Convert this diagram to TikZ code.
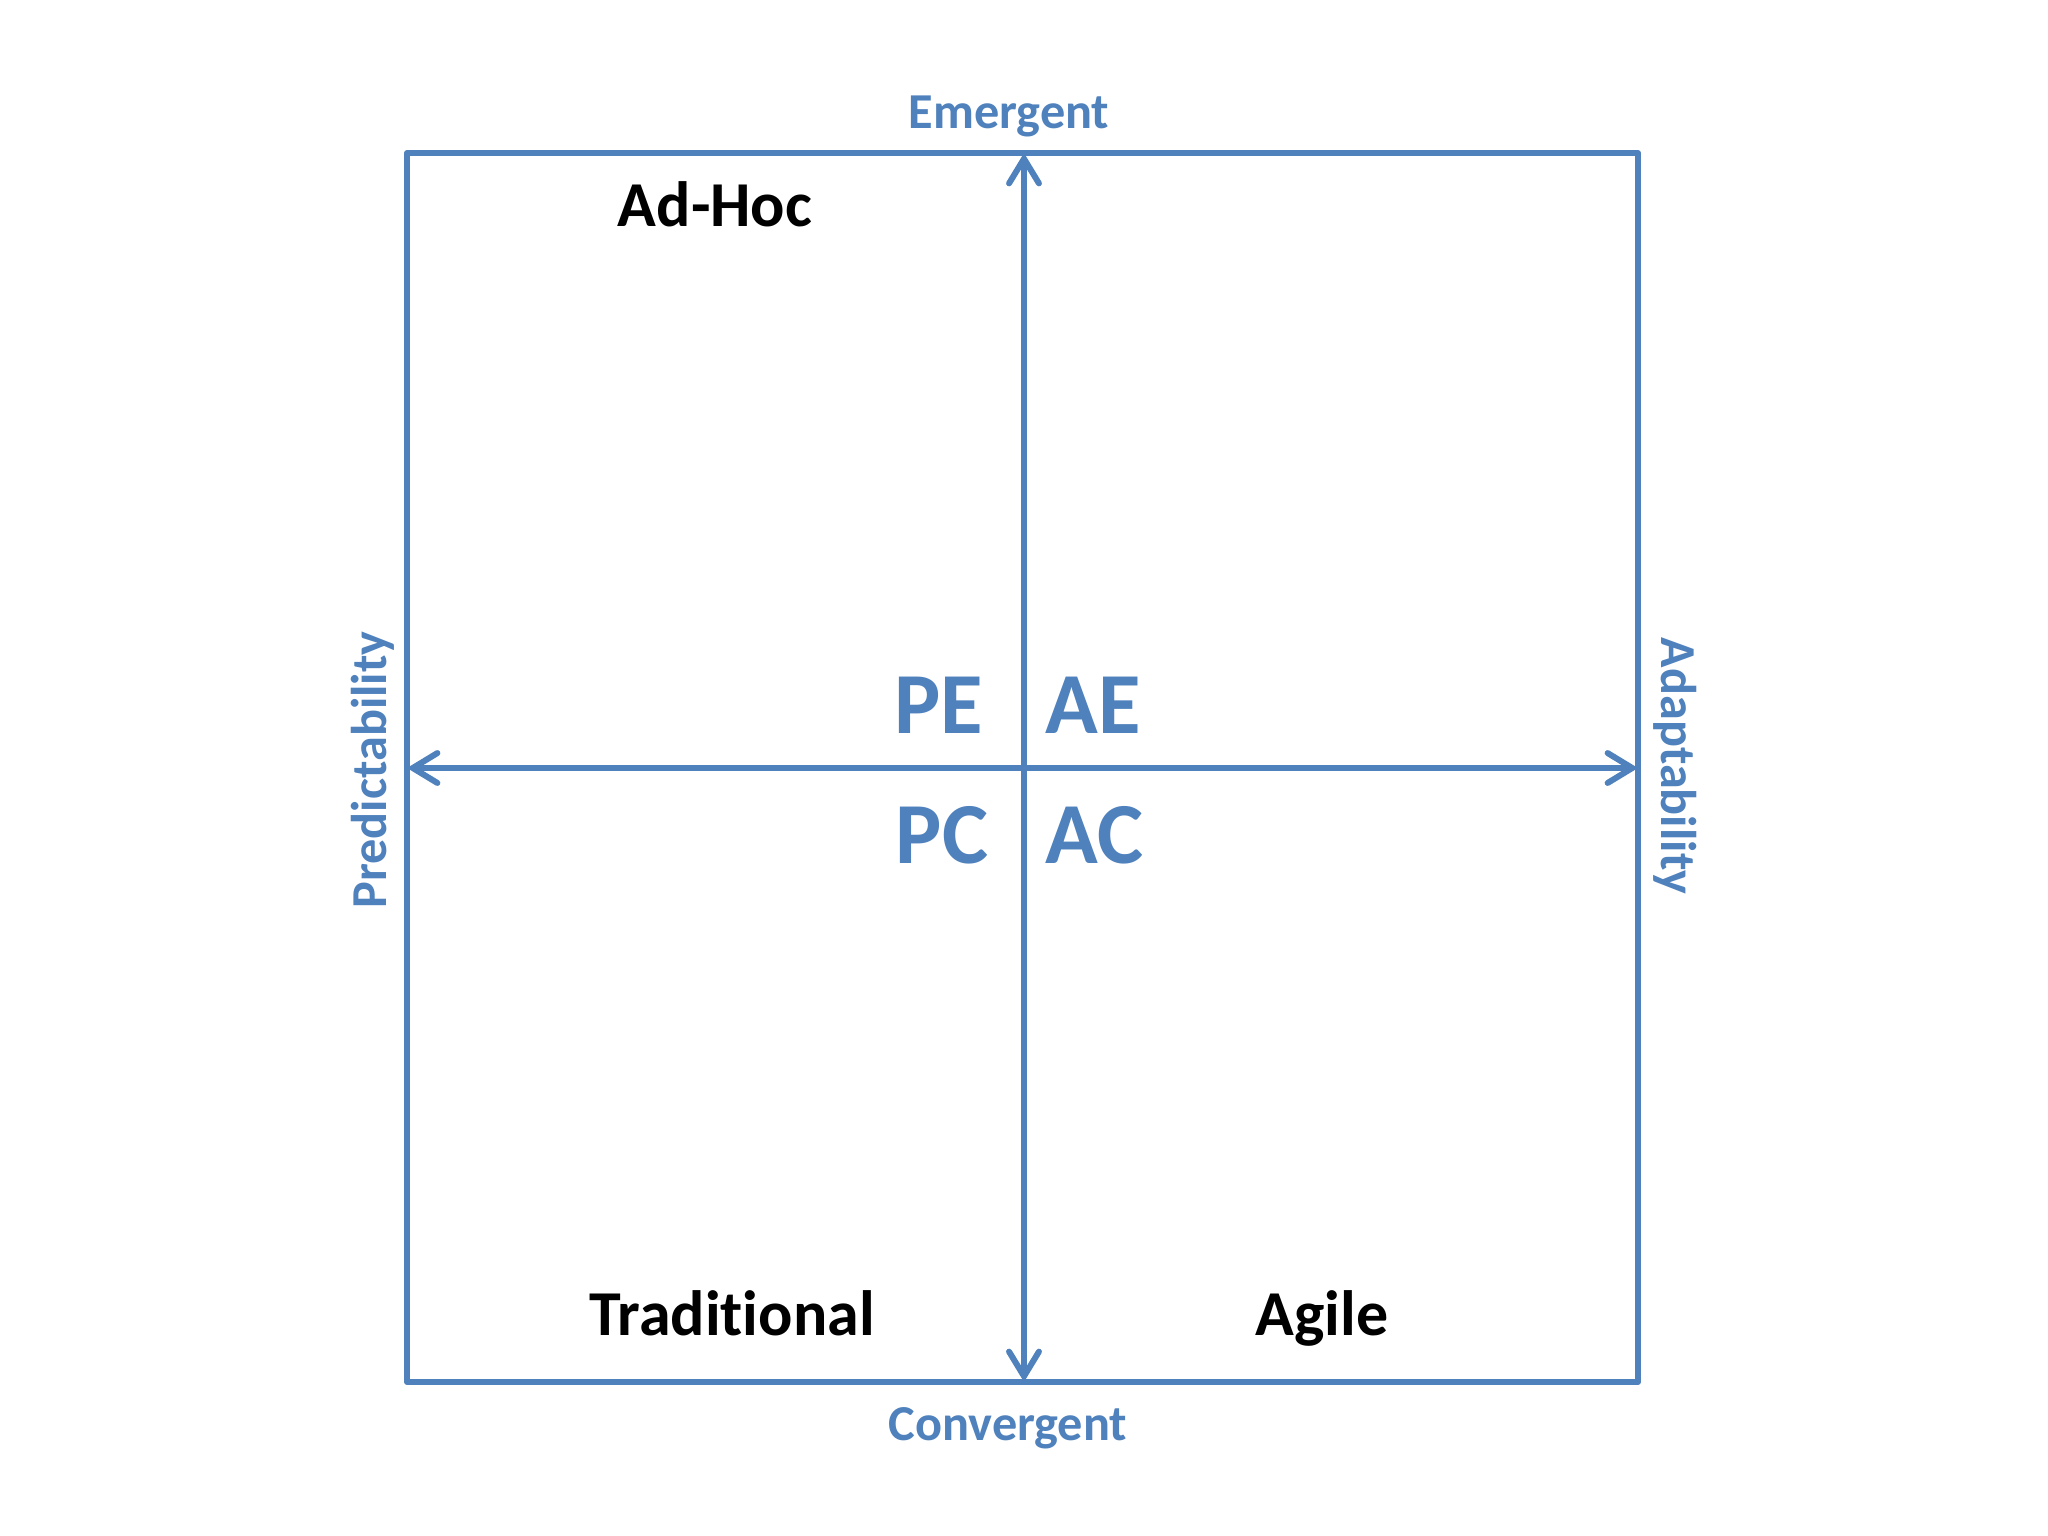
\documentclass[tikz,border=0pt]{standalone}
\usepackage{fontspec}
\setmainfont{Carlito}[Ligatures={NoCommon,NoRare,NoContextual}]
\usetikzlibrary{arrows.meta}
\definecolor{axisblue}{RGB}{79,129,189}
\tikzset{
  frame/.style={draw=axisblue, line width=1.7pt, line join=round},
  axisarrow/.style={draw=axisblue, line width=1.7pt, line cap=round,
    {Straight Barb[length=7pt,width=8.5pt,line cap=round]}-{Straight Barb[length=7pt,width=8.5pt,line cap=round]}},
  axislabel/.style={inner sep=0pt, anchor=base, text=axisblue, font=\fontsize{14.3pt}{17pt}\selectfont\bfseries},
  zone/.style={inner sep=0pt, anchor=base, text=axisblue, font=\fontsize{24.75pt}{28pt}\selectfont\bfseries},
  quadname/.style={inner sep=0pt, anchor=base, text=black, font=\fontsize{18.2pt}{22pt}\selectfont\bfseries}
}
\begin{document}
\begin{tikzpicture}[x=0.01cm, y=-0.01cm]
  \useasboundingbox[fill=white] (0,0) rectangle (2048,1536);
  % frame corners and axis ends
  \coordinate (tl) at (407,153);
  \coordinate (br) at (1638,1382);
  \coordinate (top) at (1024,153);
  \coordinate (bottom) at (1024,1382);
  \coordinate (left) at (407,768);
  \coordinate (right) at (1638,768);
  \draw[frame] (tl) rectangle (br);
  \draw[axisarrow] (bottom) -- (top);
  \draw[axisarrow] (left) -- (right);
  % axis labels
  \node[axislabel] (emergent) at (1009,128) {Emergent};
  \node[axislabel] (convergent) at (1008,1440) {Convergent};
  \node[axislabel, rotate=90] (predict) at (386,770) {Predictability};
  \node[axislabel, rotate=-90] (adapt) at (1661,766) {Adaptability};
  % zone codes
  \node[zone, anchor=base east] (pe) at (984,733) {PE};
  \node[zone, anchor=base west] (ae) at (1045,733) {AE};
  \node[zone, anchor=base east] (pc) at (989,863) {PC};
  \node[zone, anchor=base west] (ac) at (1045,863) {AC};
  % quadrant names
  \node[quadname] (adhoc) at (715,226) {Ad-Hoc};
  \node[quadname] (trad) at (732,1335) {Tradit\kern0pt ional};
  \node[quadname] (agile) at (1322,1335) {Agile};
\end{tikzpicture}
\end{document}
